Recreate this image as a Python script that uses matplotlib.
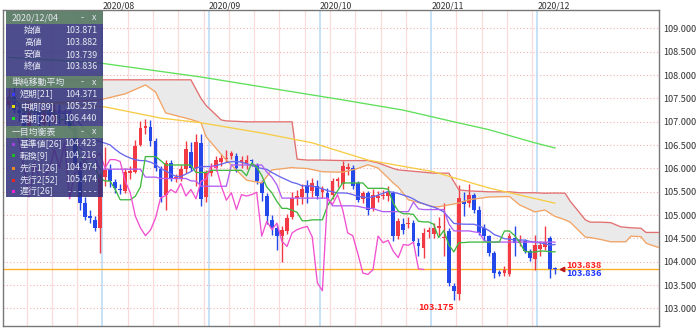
import numpy as np
import pandas as pd
import matplotlib
matplotlib.use("Agg")
import matplotlib.pyplot as plt
from matplotlib.patches import Rectangle
import matplotlib.transforms as mtransforms

plt.rcParams['font.family'] = ['Noto Sans CJK JP', 'DejaVu Sans']

# ---------------- data ----------------
dates = pd.bdate_range('2020-07-07', '2020-12-04')

opens = [107.37, 107.53, 107.26, 107.19, 106.92, 107.26, 107.24, 106.95, 107.26, 107.02,
         107.26, 107.18, 107.16, 106.86, 106.12, 105.25, 104.98, 104.90, 104.73,
         105.81, 105.99, 105.71, 105.57, 105.51, 105.90, 105.92, 106.51, 106.87, 106.89,
         106.59, 105.99, 105.44, 106.12, 105.79, 105.80, 105.98, 106.35, 106.01, 106.55, 105.39,
         105.91, 106.01, 106.13, 106.20, 106.27, 106.26, 106.14, 106.12, 106.19, 106.08,
         105.71, 105.41, 104.90, 104.73, 104.56, 104.66, 104.95, 105.37, 105.39, 105.63,
         105.51, 105.63,
         105.49, 105.48, 105.44, 105.73, 105.66, 105.98, 106.01, 105.68, 105.34, 105.48,
         105.16, 105.37, 105.41, 105.41, 105.48, 104.55, 104.81, 104.80, 104.83, 104.40,
         104.30, 104.63,
         104.60, 104.72, 104.50, 104.65, 103.48, 103.30, 105.31, 105.26, 105.44, 105.12,
         104.73, 104.55, 104.19, 103.78, 103.75, 103.73, 104.51, 104.41, 104.44, 104.23,
         104.05,
         104.28, 104.32, 104.51, 103.871]
highs = [107.72, 107.78, 107.42, 107.24, 107.44, 107.38, 107.30, 107.32, 107.30, 107.38,
         107.38, 107.28, 107.27, 106.92, 106.16, 105.38, 105.12, 104.98, 105.90,
         106.47, 106.10, 105.78, 105.66, 106.01, 106.05, 106.62, 107.01, 107.05, 107.04,
         106.66, 106.05, 106.19, 106.19, 105.88, 106.08, 106.58, 106.57, 106.73, 106.73, 105.97,
         106.12, 106.26, 106.31, 106.40, 106.38, 106.33, 106.27, 106.29, 106.21, 106.12,
         105.76, 105.48, 105.01, 104.80, 104.76, 105.02, 105.49, 105.53, 105.66, 105.76,
         105.80, 105.76,
         105.62, 105.58, 105.80, 105.82, 106.15, 106.11, 106.08, 105.74, 105.52, 105.51,
         105.55, 105.52, 105.53, 105.62, 105.52, 104.94, 104.94, 104.95, 104.90, 104.51,
         104.73, 104.74,
         104.83, 104.95, 105.25, 104.73, 103.55, 105.65, 105.50, 105.671, 105.48, 105.19,
         104.80, 104.58, 104.23, 103.83, 103.91, 104.62, 104.77, 104.58, 104.48, 104.27,
         104.58,
         104.44, 104.77, 104.55, 103.882]
lows = [107.30, 107.18, 107.01, 106.65, 106.85, 107.00, 106.76, 106.86, 106.90, 106.98,
        106.96, 106.96, 106.82, 105.98, 105.12, 104.90, 104.84, 104.66, 104.19,
        105.63, 105.60, 105.48, 105.46, 105.48, 105.78, 105.90, 106.48, 106.73, 106.48,
        105.95, 105.29, 105.10, 105.73, 105.70, 105.73, 105.91, 105.95, 105.62, 105.19, 105.29,
        105.83, 105.94, 106.05, 106.14, 106.20, 105.93, 106.00, 105.99, 106.05, 105.66,
        105.30, 104.80, 104.58, 104.26, 104.00, 104.60, 104.92, 105.22, 105.23, 105.26,
        105.39, 105.34,
        105.36, 105.23, 105.34, 105.60, 105.55, 105.87, 105.55, 105.28, 105.26, 105.00,
        105.09, 105.28, 105.35, 105.30, 104.44, 104.48, 104.59, 104.72, 104.41, 104.12,
        104.09, 104.50,
        104.50, 104.55, 104.12, 103.48, 103.175, 103.18, 104.99, 105.18, 105.04, 104.57,
        104.44, 104.13, 103.65, 103.69, 103.69, 103.69, 104.12, 104.34, 104.19, 104.01,
        103.83,
        104.12, 104.26, 103.662, 103.739]
closes = [107.53, 107.26, 107.19, 106.92, 107.26, 107.24, 106.95, 107.26, 107.02, 107.26,
          107.18, 107.16, 106.86, 106.12, 105.25, 104.95, 104.93, 104.73, 105.85,
          105.96, 105.73, 105.59, 105.54, 105.92, 105.94, 106.49, 106.87, 106.91, 106.59,
          106.01, 105.39, 106.12, 105.80, 105.81, 105.98, 106.41, 106.01, 106.56, 105.35, 105.91,
          105.96, 106.18, 106.23, 106.23, 106.33, 106.01, 106.19, 106.19, 106.15, 105.73,
          105.48, 104.98, 104.73, 104.56, 104.68, 104.94, 105.37, 105.42, 105.55, 105.48,
          105.68, 105.41,
          105.55, 105.35, 105.73, 105.77, 106.06, 106.03, 105.62, 105.32, 105.48, 105.12,
          105.44, 105.41, 105.44, 105.49, 104.55, 104.87, 104.69, 104.83, 104.44, 104.33,
          104.62, 104.69,
          104.73, 104.76, 104.53, 103.55, 103.38, 105.37, 105.23, 105.44, 105.12, 104.62,
          104.56, 104.18, 103.76, 103.73, 103.83, 104.55, 104.41, 104.46, 104.23, 104.09,
          104.37,
          104.354, 104.42, 103.85, 103.836]
ask_price = 103.838

# lines (day index, value)
ma89_days = [0, 19, 30, 38, 50, 60, 71, 84, 95, 108]
ma89_vals = [107.47, 107.32, 107.08, 106.98, 106.76, 106.55, 106.18, 105.93, 105.58, 105.257]
ma200_days = [0, 18, 38, 66, 78, 88, 95, 104, 108]
ma200_vals = [108.38, 108.26, 107.96, 107.47, 107.25, 107.00, 106.83, 106.55, 106.440]

cloud_days = [0, 18, 23, 27, 29, 31, 36, 38, 39, 42, 43, 47, 50, 52, 56, 57, 59, 62, 66,
              69, 71, 73, 76, 77, 79, 84, 85, 87, 89, 91, 95, 99, 101, 104, 106, 108, 110,
              111, 114, 115, 117, 119, 121, 122, 123, 125, 126, 127, 129]
senkou_a = [107.35, 107.47, 107.60, 107.79, 107.64, 107.19, 107.05, 106.98, 106.68, 106.30,
            106.18, 105.75, 105.69, 105.97, 106.02, 106.01, 106.00, 105.93, 105.92,
            106.00, 106.08, 106.01, 105.69, 105.60, 105.33, 105.18, 105.18, 105.22, 105.26,
            105.33, 105.39, 105.40, 105.22, 105.07, 105.11, 104.974, 104.90,
            104.85, 104.53, 104.52, 104.48, 104.43, 104.43, 104.43, 104.55, 104.54, 104.40,
            104.36, 104.29]
senkou_b = [107.90, 107.90, 107.90, 107.90, 107.90, 107.90, 107.90, 107.50, 107.35, 107.04,
            107.02, 107.00, 107.00, 107.00, 107.00, 106.20, 106.18, 106.18, 106.17,
            106.17, 106.17, 106.12, 106.00, 105.97, 105.95, 105.90, 105.90, 105.90, 105.54,
            105.52, 105.50, 105.50, 105.48, 105.48, 105.47, 105.474, 105.47,
            105.30, 104.90, 104.85, 104.85, 104.84, 104.75, 104.74, 104.73, 104.72, 104.63,
            104.63, 104.63]

# ---------------- figure ----------------
W, H = 700, 330
fig = plt.figure(figsize=(W / 100, H / 100), dpi=100)
fig.patch.set_facecolor('white')
ax = fig.add_axes([3 / W, 4 / H, 656 / W, 316 / H])
ax.set_facecolor('white')

o = np.array(opens); h = np.array(highs); l = np.array(lows); c = np.array(closes)
n = len(c)
idx = np.arange(n)
ax.set_xlim(-1.17, 128.57)
ax.set_ylim(102.625, 109.396)

# grid
yt = np.arange(103.0, 109.001, 0.5)
for yv in yt:
    ax.axhline(yv, color='#f3b0b0', lw=0.8, ls=(0, (1, 2)), zorder=0.5)
month_starts = [i for i in range(1, n) if dates[i].month != dates[i - 1].month]
for i in range(1, n):
    if dates[i].weekday() == 0 and i not in month_starts:
        ax.axvline(i - 0.5, color='#fbdada', lw=0.9, zorder=0.5)
for i in month_starts:
    ax.axvline(i - 0.5, color='#b6d8f4', lw=1.1, zorder=0.6)
    ax.text(i - 0.5, 1.013, f"{dates[i].year}/{dates[i].month:02d}",
            transform=mtransforms.blended_transform_factory(ax.transData, ax.transAxes),
            ha='left', va='center', fontsize=6.3, color='#333333', clip_on=False)

# cloud
ax.fill_between(cloud_days, senkou_a, senkou_b, color='#eaeaea', lw=0, zorder=1)

# candles
RED, BLUE = '#f23a45', '#2448ea'
cols = np.where(c >= o, RED, BLUE)
ax.vlines(idx, l, h, colors=cols, lw=1.0, zorder=3)
ax.bar(idx, np.maximum(np.abs(c - o), 0.014), bottom=np.minimum(o, c), width=0.74,
       color=cols, lw=0, zorder=3.5)

# indicators
cs = pd.Series(c)
ma21 = cs.rolling(21, min_periods=1).mean()
hs, ls_ = pd.Series(h), pd.Series(l)
tenkan = (hs.rolling(9, min_periods=1).max() + ls_.rolling(9, min_periods=1).min()) / 2
kijun = (hs.rolling(26, min_periods=1).max() + ls_.rolling(26, min_periods=1).min()) / 2
chikou_x = idx[:n - 26]
chikou_y = c[26:]

lw = 0.95
ax.plot(cloud_days, senkou_b, color='#e27070', lw=lw, zorder=4)
ax.plot(cloud_days, senkou_a, color='#f2a465', lw=lw, zorder=4)
ax.plot(ma200_days, ma200_vals, color='#5fe05a', lw=lw, zorder=4)
ax.plot(ma89_days, ma89_vals, color='#f7cc45', lw=lw, zorder=4)
ax.plot(idx, ma21, color='#6767f0', lw=lw, zorder=4)
ax.plot(idx, kijun, color='#b15ef2', lw=lw, zorder=4)
ax.plot(idx, tenkan, color='#3fba3f', lw=lw, zorder=4)
ax.plot(chikou_x, chikou_y, color='#f050d0', lw=lw, zorder=4)

# current price line and labels
last = c[-1]
ax.axhline(last, color='#ffb024', lw=1.0, zorder=2)
ax.plot([n - 1 + 1.3], [last], marker='<', color='#c01818', ms=3.2, zorder=6, clip_on=False)
ax.text(n - 1 + 2.3, last + 0.085, f"{ask_price:.3f}", color='#ff1c1c', fontsize=6.6,
        fontweight='bold', ha='left', va='center', zorder=6)
ax.text(n - 1 + 2.3, last - 0.085, f"{last:.3f}", color='#1c34ff', fontsize=6.6,
        fontweight='bold', ha='left', va='center', zorder=6)
imin = int(np.argmin(l))
ax.text(imin, l[imin] - 0.145, f"{l[imin]:.3f}", color='#ff1c1c', fontsize=6.6,
        fontweight='bold', ha='right', va='center', zorder=6)

# axes styling
ax.yaxis.tick_right()
ax.set_yticks(yt)
ax.set_yticklabels([f"{v:.3f}" for v in yt], fontsize=6.6, color='#333333')
ax.tick_params(axis='y', length=0, pad=3)
ax.set_xticks([])
for s in ax.spines.values():
    s.set_color('#777777')
    s.set_linewidth(1.0)

# ---------------- info panel ----------------
def fx(x):
    return x / W

def fy(y):
    return 1 - y / H

def rect(x0, y0, x1, y1, color, alpha):
    fig.add_artist(Rectangle((fx(x0), fy(y1)), (x1 - x0) / W, (y1 - y0) / H,
                             transform=fig.transFigure, facecolor=color, edgecolor='none',
                             alpha=alpha, zorder=10))

HEAD, BODY, TXT = '#5b7c66', '#30307a', '#e6e8f2'
PX0, PX1 = 6, 103
sections = [(11, 24, 76), (76, 88, 126), (126, 138, 197)]
for (y0, y1, y2) in sections:
    rect(PX0, y0, PX1, y1, HEAD, 0.95)
    rect(PX0, y1, PX1, y2, BODY, 0.86)

def ftext(x, y, s, ha='left', color=TXT, size=6.4):
    fig.text(fx(x), fy(y), s, ha=ha, va='center', color=color, fontsize=size, zorder=11)

titles = ["2020/12/04", "単純移動平均", "一目均衡表"]
for (y0, y1, _), t in zip(sections, titles):
    ym = (y0 + y1) / 2
    ftext(12, ym, t)
    ftext(82, ym, "-", ha='center')
    ftext(94, ym, "x", ha='center')

ohlc_rows = [("始値", o[-1]), ("高値", h[-1]), ("安値", l[-1]), ("終値", c[-1])]
for (lab, v), y in zip(ohlc_rows, [30.7, 42.7, 55.0, 66.7]):
    ftext(24, y, lab)
    ftext(97, y, f"{v:.3f}", ha='right')

ma_rows = [("短期[21]", ma21.iloc[-1], '#3a3aff'),
           ("中期[89]", ma89_vals[-1], '#e6e000'),
           ("長期[200]", ma200_vals[-1], '#22dd22')]
for (lab, v, mc), y in zip(ma_rows, [94.3, 106.7, 118.7]):
    fig.add_artist(Rectangle((fx(11.5), fy(y + 1.5)), 3 / W, 3 / H, transform=fig.transFigure,
                             facecolor=mc, edgecolor='none', zorder=11))
    ftext(20, y, lab)
    ftext(97, y, f"{v:.3f}", ha='right')

ichi_rows = [("基準値[26]", f"{kijun.iloc[-1]:.3f}", '#a040e0'),
             ("転換[9]", f"{tenkan.iloc[-1]:.3f}", '#22bb22'),
             ("先行1[26]", f"{senkou_a[cloud_days.index(n - 1)]:.3f}", '#ee8822'),
             ("先行2[52]", f"{senkou_b[cloud_days.index(n - 1)]:.3f}", '#ee2222'),
             ("遅行[26]", "- - - - - -", '#ee22dd')]
for (lab, v, mc), y in zip(ichi_rows, [144.0, 155.7, 168.0, 180.0, 191.7]):
    fig.add_artist(Rectangle((fx(11.5), fy(y + 1.5)), 3 / W, 3 / H, transform=fig.transFigure,
                             facecolor=mc, edgecolor='none', zorder=11))
    ftext(20, y, lab)
    ftext(97, y, v, ha='right')

fig.savefig('out.png', dpi=100, facecolor='white')
